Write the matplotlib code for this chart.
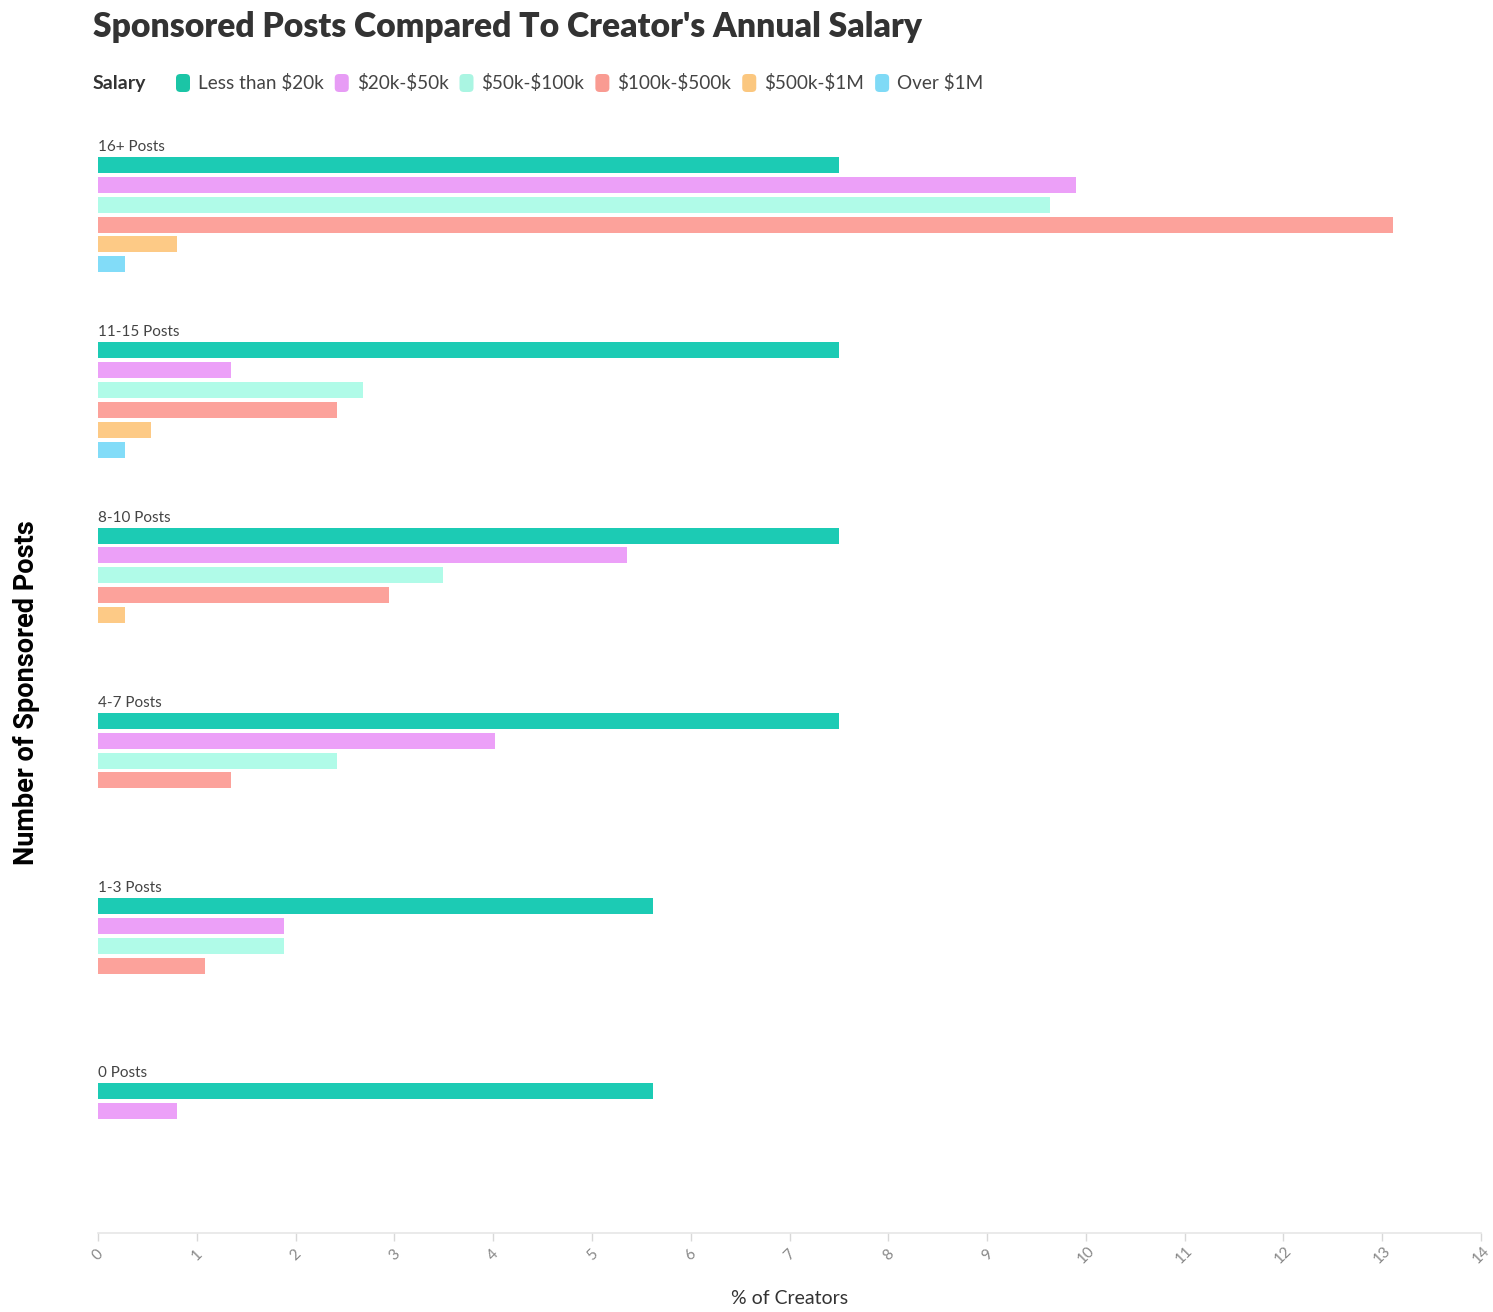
import numpy as np
import matplotlib
matplotlib.use('Agg')
import matplotlib.pyplot as plt
from matplotlib.patches import FancyBboxPatch

# data: % of creators, per posting bucket, per salary band
groups = ['16+ Posts', '11-15 Posts', '8-10 Posts', '4-7 Posts', '1-3 Posts', '0 Posts']
salaries = ['Less than $20k', '$20k-$50k', '$50k-$100k', '$100k-$500k', '$500k-$1M', 'Over $1M']
colors = ['#1ccbb4', '#eca0f8', '#b0fbe8', '#fca29b', '#fdca86', '#82dcf8']
legend_colors = ['#1bc5a6', '#e79cf5', '#aaf5e2', '#f99b92', '#fbc77f', '#7fdaf6']

less_20k = [7.5, 7.5, 7.5, 7.5, 5.62, 5.62]
k20_50 = [9.9, 1.35, 5.36, 4.02, 1.88, 0.8]
k50_100 = [9.64, 2.68, 3.49, 2.42, 1.88, 0]
k100_500 = [13.11, 2.42, 2.95, 1.35, 1.08, 0]
k500_1m = [0.8, 0.54, 0.27, 0, 0, 0]
over_1m = [0.27, 0.27, 0, 0, 0, 0]
series = [less_20k, k20_50, k50_100, k100_500, k500_1m, over_1m]
xticks = list(range(0, 15))

plt.rcParams['text.parse_math'] = False

W, H = 1493, 1312
fig = plt.figure(figsize=(W / 100, H / 100), dpi=100)
fig.patch.set_facecolor('white')

ax_top, ax_bot = 130, 1233
ax = fig.add_axes([98 / W, (H - ax_bot) / H, (1481 - 98) / W, (ax_bot - ax_top) / H])
ax.set_xlim(0, 14)
ax.set_ylim(ax_bot, ax_top)

gstep = 185.3   # spacing between groups
bstep = 19.85   # spacing between bars in a group
for g, name in enumerate(groups):
    y0 = 165 + g * gstep
    ax.text(0, y0 - 18, name, fontsize=11, color='#444444', family='Lato',
            va='center', ha='left')
    for s, vals in enumerate(series):
        if vals[g] > 0:
            ax.barh(y0 + s * bstep, vals[g], height=16, color=colors[s], linewidth=0)

for sp in ['top', 'right', 'left']:
    ax.spines[sp].set_visible(False)
ax.spines['bottom'].set_color('#e6e6e6')
ax.spines['bottom'].set_linewidth(1.2)
ax.set_yticks([])
ax.set_xticks(xticks)
ax.set_xticklabels([])
ax.tick_params(axis='x', colors='#d8d8d8', length=6, width=1)
# tick labels placed by hand, rotated
for v in xticks:
    ax.annotate(str(v), (v, 0), xycoords=('data', 'axes fraction'),
                xytext=(0, -22), textcoords='offset pixels', rotation=45,
                ha='center', va='center', color='#888888', fontsize=11, family='Lato')

# x label
fig.text((98 + 1481) / 2 / W, 1 - 1299 / H, '% of Creators', fontsize=14,
         color='#333333', family='Lato', ha='center', va='center')

# title
fig.text(93 / W, 1 - 27 / H, "Sponsored Posts Compared To Creator's Annual Salary",
         fontsize=24.2, fontweight='heavy', color='#333333', family='Lato', va='center')

# y label
fig.text(27 / W, 1 - 693 / H, 'Number of Sponsored Posts', rotation=90, fontsize=19.5,
         fontweight='bold', color='black', family=['Roboto', 'DejaVu Sans'],
         va='center', ha='center')

# legend built by hand
fig.canvas.draw()
r = fig.canvas.get_renderer()
ly = 1 - 83 / H
t = fig.text(93 / W, ly, 'Salary', fontsize=14, fontweight='bold', color='#333333',
             family='Lato', va='center')
x = 176
for name, c in zip(salaries, legend_colors):
    box = FancyBboxPatch((x / W, (H - 92) / H), 14 / W, 18 / H,
                         boxstyle='round,pad=0,rounding_size=0.003',
                         transform=fig.transFigure, facecolor=c, edgecolor='none')
    fig.patches.append(box)
    tt = fig.text((x + 22) / W, ly, name, fontsize=13.6, color='#444444', family='Lato',
                  va='center')
    w = tt.get_window_extent(r).width
    x = x + 22 + w + 11

fig.savefig('out.png', dpi=100, facecolor='white')
